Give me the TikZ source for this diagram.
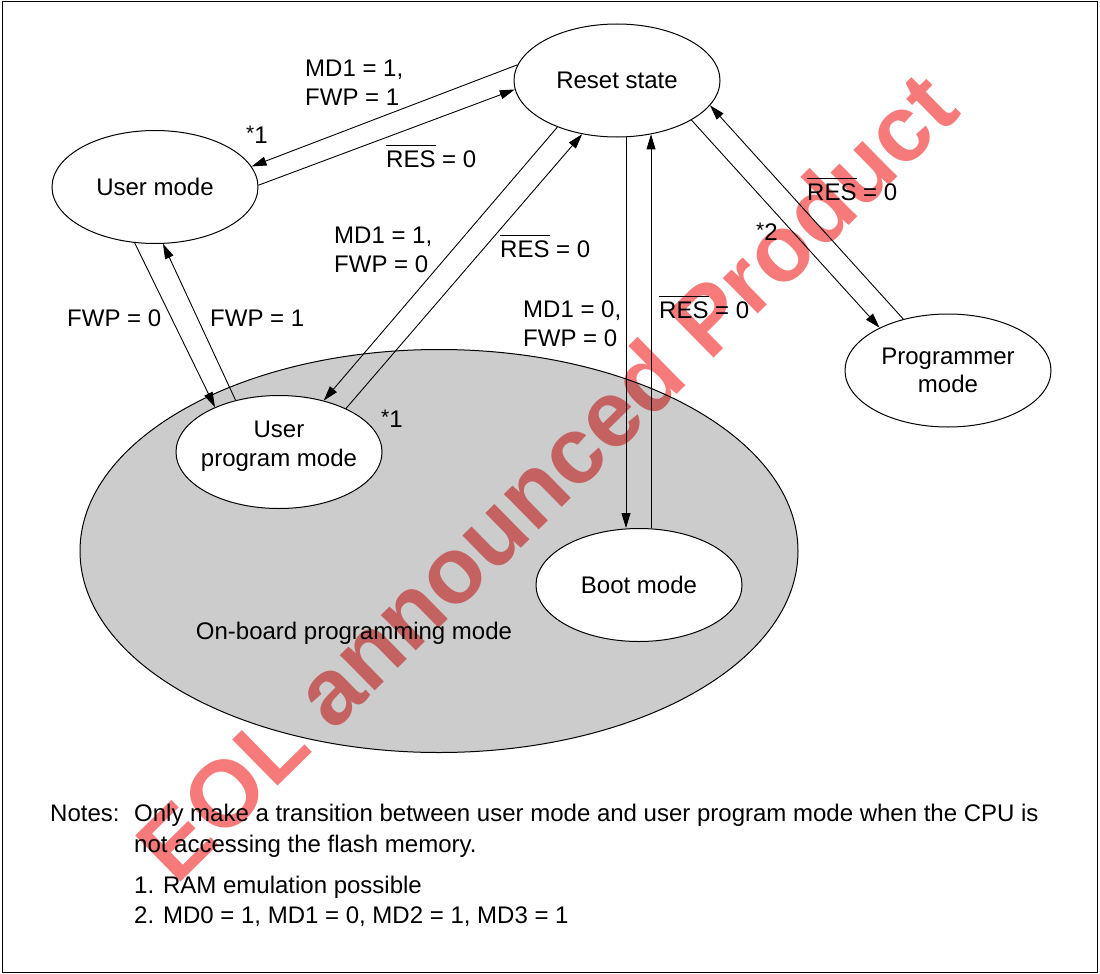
\documentclass[tikz,border=0pt]{standalone}
\usepackage{fontspec}
\setmainfont{Liberation Sans}
\usetikzlibrary{arrows.meta,shapes.geometric}
\definecolor{obgray}{RGB}{204,204,204}
\definecolor{wmred}{RGB}{246,122,122}
\newcommand\ovl[1]{{\setbox0=\hbox{#1}\rlap{\rule[0.86em]{\wd0}{0.05em}}\box0}}
\newcommand\smallast{\raisebox{2.5pt}{\fontsize{21}{21}\selectfont *}}
\begin{document}
\begin{tikzpicture}[x=1pt,y=-1pt,
  every node/.style={font=\fontsize{24}{28.5}\selectfont, inner sep=0pt},
  st/.style={ellipse, draw, line width=1pt, fill=white, minimum width=206pt, minimum height=113pt},
  conn/.style={line width=0.9pt, -{Triangle[length=15pt,width=9pt]}},
  lbl/.style={anchor=base west, align=left}]
\useasboundingbox (0,0) rectangle (1100,974);
\draw[line width=1pt] (2,2) rectangle (1097,972);

\node[ellipse, draw, fill=obgray, line width=1pt, minimum width=718pt, minimum height=403pt] (obp) at (439,551) {};
\node (obptext) at (354,633) {On-board programming mode};

\node[st] (reset) at (617,80.5) {Reset state};
\node[st] (user) at (155,187) {User mode};
\node[st] (upm) at (279,452) {};
\node[align=center] (upmtext) at (279,446) {User\\program mode};
\node[st] (boot) at (639,585) {Boot mode};
\node[st, align=center] (prog) at (948,370.5) {Programmer\\mode};

\draw[conn] (reset.171.9) -- (user.12.7);
\draw[conn] (user.1.1) -- (reset.185.3);
\draw[conn] (reset.218.2) -- (upm.49.6);
\draw[conn] (upm.33.1) -- (reset.237.3);
\draw[conn] (user.250) -- (upm.145.7);
\draw[conn] (upm.130.2) -- (user.278.1);
\draw[conn] (reset.279.5) -- (reset.279.5 |- boot.north);
\draw[conn] (boot.78) -- (boot.78 |- reset.302.4);
\draw[conn] (reset.332.8) -- (prog.148.1);
\draw[conn] (prog.131.2) -- (reset.345.5);

\node[lbl] (l1) at (305,105) {MD1 = 1,\\FWP = 1};
\node[lbl] (s1) at (246,143) {\smallast1};
\node[lbl] (l2) at (386,167) {\ovl{RES} = 0};
\node[lbl] (l3) at (334,272) {MD1 = 1,\\FWP = 0};
\node[lbl] (l4) at (500,257) {\ovl{RES} = 0};
\node[lbl] (l5) at (67,326) {FWP = 0};
\node[lbl] (l6) at (210,326) {FWP = 1};
\node[lbl] (s2) at (381,427) {\smallast1};
\node[lbl] (l7) at (523,346) {MD1 = 0,\\FWP = 0};
\node[lbl] (l8) at (659,318) {\ovl{RES} = 0};
\node[lbl] (l9) at (807,200) {\ovl{RES} = 0};
\node[lbl] (s3) at (756,240) {\smallast2};

\node[lbl] (n0) at (50,821) {Notes:};
\node[lbl] (n1) at (134,821) {Only make a transition between user mode and user program mode when the CPU is};
\node[lbl] (n2) at (134,852) {not accessing the flash memory.};
\node[lbl] (n3) at (134,893) {1. RAM emulation possible};
\node[lbl] (n4) at (134,923) {2. MD0 = 1, MD1 = 0, MD2 = 1, MD3 = 1};

\begin{scope}[blend mode=multiply]
\node[rotate=44.5, text=wmred, font=\fontsize{94}{94}\selectfont\bfseries] (wm) at (546,476) {EOL announced Product};
\end{scope}
\end{tikzpicture}
\end{document}
